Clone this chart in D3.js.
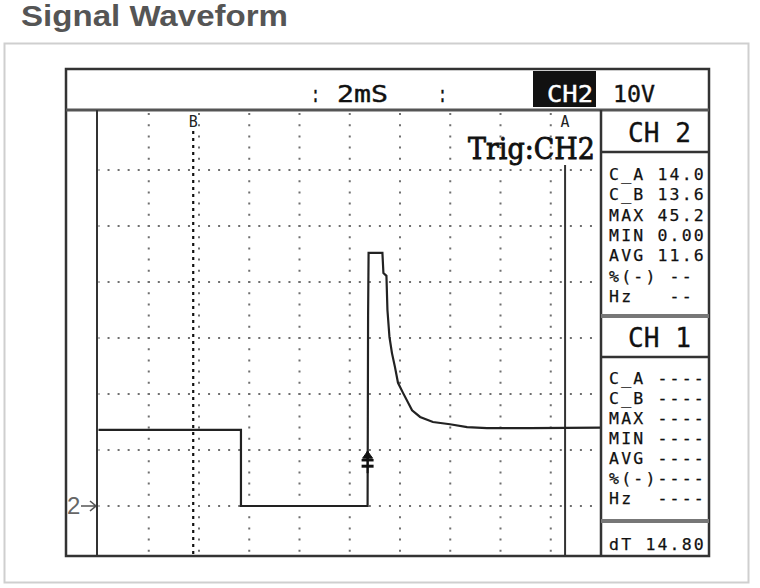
<!DOCTYPE html>
<html>
<head>
<meta charset="utf-8">
<script src="https://cdn.jsdelivr.net/npm/d3@7"></script>
<style>
  html, body { margin: 0; padding: 0; background: #fff; }
  svg { display: block; }
  .pre { white-space: pre; }
</style>
</head>
<body>
<script>
// ---------- data ----------
const chartTitle = "Signal Waveform";
const timeMs = [0, 5.67, 5.67, 10.71, 10.73, 10.75, 11.30, 11.34, 11.46, 11.50, 11.58, 11.68, 11.80, 11.92, 12.12, 12.48, 12.80, 13.31, 13.99, 14.67, 15.46, 17.17, 20.0];
const volts  = [13.6, 13.6, 0, 0, 34, 45.2, 45.2, 41.6, 41.1, 35.0, 30.2, 27.3, 24.8, 22.0, 20.2, 17.1, 15.9, 15.0, 14.6, 14.1, 13.9, 13.9, 14.0];
const gridTimes = [2, 4, 6, 8, 10, 12, 14, 16, 18];
const gridVolts = [0, 10, 20, 30, 40, 50, 60];
const cursorB = 3.77, cursorA = 18.57;
const triggerTime = 10.71, triggerVolt = 8;
const groundVolt = 0;
const timebase = "2mS", activeChannel = "CH2", voltsPerDiv = "10V";
const trigLabel = "Trig:CH2";
const ch2Title = "CH 2", ch1Title = "CH 1";
const rowLabels = ["C_A", "C_B", "MAX", "MIN", "AVG", "%(-)", "Hz"];
const ch2Values = ["14.0", "13.6", "45.2", "0.00", "11.6", "-- ", "-- "];
const ch1Values = ["----", "----", "----", "----", "----", "----", "----"];
const dtLabel = "dT", dtValue = "14.80";

// ---------- layout ----------
const W = 760, H = 588;
const frame = {x0: 66, y0: 69, x1: 709, y1: 556};
const plot = {x0: 97, y0: 110, x1: 601, y1: 556};
const barY = 110;

const svg = d3.select("body").append("svg").attr("width", W).attr("height", H);

// card
svg.append("rect").attr("x", 4.5).attr("y", 43.5).attr("width", 744).attr("height", 539)
  .attr("fill", "#fff").attr("stroke", "#cfcfcf").attr("stroke-width", 2);

svg.append("text").attr("x", 21).attr("y", 26)
  .attr("font-family", "Liberation Sans, Arial, sans-serif").attr("font-weight", "bold")
  .attr("font-size", 29).attr("fill", "#555").attr("textLength", 267).attr("lengthAdjust", "spacingAndGlyphs")
  .text(chartTitle);

// scales
const x = d3.scaleLinear().domain([0, 20]).range([98.5, 601]);
const y = d3.scaleLinear().domain([0, 10]).range([506, 450]);

// clip
svg.append("clipPath").attr("id", "plotclip").append("rect")
  .attr("x", plot.x0).attr("y", plot.y0).attr("width", plot.x1 - plot.x0).attr("height", plot.y1 - plot.y0);
const g = svg.append("g").attr("clip-path", "url(#plotclip)");

// grid: dotted
const vPeriod = (y(0) - y(10)) / 5;
const hPeriod = (x(2) - x(0)) / 5;
g.selectAll("line.vg").data(gridTimes).join("line").attr("class", "vg")
  .attr("x1", d => x(d)).attr("x2", d => x(d))
  .attr("y1", y(-10)).attr("y2", y(80))
  .attr("stroke", "#6f6f6f").attr("stroke-width", 2)
  .attr("stroke-dasharray", `2,${vPeriod - 2}`).attr("stroke-dashoffset", 1);
g.selectAll("line.hg").data(gridVolts).join("line").attr("class", "hg")
  .attr("x1", x(0)).attr("x2", x(20))
  .attr("y1", d => y(d)).attr("y2", d => y(d))
  .attr("stroke", "#6f6f6f").attr("stroke-width", 2)
  .attr("stroke-dasharray", `2,${hPeriod - 2}`).attr("stroke-dashoffset", 1);

// cursor B (dotted)
g.append("line").attr("x1", x(cursorB)).attr("x2", x(cursorB)).attr("y1", 131).attr("y2", plot.y1)
  .attr("stroke", "#111").attr("stroke-width", 2.2).attr("stroke-dasharray", "3,4");
// cursor A (solid)
g.append("line").attr("x1", x(cursorA)).attr("x2", x(cursorA)).attr("y1", 165).attr("y2", plot.y1)
  .attr("stroke", "#333").attr("stroke-width", 2);

const mono = "DejaVu Sans Mono, monospace";
[[cursorB, "B"], [cursorA, "A"]].forEach(([c, lab]) => {
  svg.append("text").attr("x", x(c) - 4.5).attr("y", 127)
    .attr("font-family", mono).attr("font-size", 15).attr("fill", "#222")
    .attr("textLength", 9).attr("lengthAdjust", "spacingAndGlyphs").text(lab);
});

// Trig label
svg.append("text").attr("x", 468).attr("y", 159)
  .attr("font-family", "DejaVu Serif, Liberation Serif, serif")
  .attr("font-size", 30).attr("fill", "#111").attr("stroke", "#111").attr("stroke-width", 0.9)
  .attr("textLength", 127).attr("lengthAdjust", "spacingAndGlyphs")
  .text(trigLabel);

// waveform
const pts = timeMs.map((t, i) => [t, volts[i]]);
g.append("path").datum(pts)
  .attr("d", d3.line().x(d => x(d[0])).y(d => y(d[1])))
  .attr("fill", "none").attr("stroke", "#222").attr("stroke-width", 2.2).attr("stroke-linejoin", "miter");

// trigger marker
const tx = x(triggerTime), ty = y(triggerVolt);
const tm = svg.append("g").attr("transform", `translate(${tx},${ty})`).attr("fill", "#111").attr("stroke", "#111");
tm.append("path").attr("d", "M0,-10 L-5,-3 L5,-3 Z").attr("stroke-width", 1);
tm.append("line").attr("x1", -6).attr("x2", 6).attr("y1", -1).attr("y2", -1).attr("stroke-width", 2.5);
tm.append("line").attr("x1", -6).attr("x2", 6).attr("y1", 5).attr("y2", 5).attr("stroke-width", 3);
tm.append("line").attr("x1", 0).attr("x2", 0).attr("y1", -10).attr("y2", 12).attr("stroke-width", 2);

// ground marker
svg.append("text").attr("x", 67).attr("y", y(groundVolt) + 8)
  .attr("font-family", "Liberation Sans, Arial, sans-serif").attr("font-size", 24).attr("fill", "#666").text("2");
svg.append("path").attr("d", `M81,${y(groundVolt)} H96 M90,${y(groundVolt) - 5} L96,${y(groundVolt)} L90,${y(groundVolt) + 5}`)
  .attr("fill", "none").attr("stroke", "#555").attr("stroke-width", 1.6);

// frame lines
svg.append("rect").attr("x", frame.x0).attr("y", frame.y0).attr("width", frame.x1 - frame.x0).attr("height", frame.y1 - frame.y0)
  .attr("fill", "none").attr("stroke", "#333").attr("stroke-width", 2.5);
svg.append("line").attr("x1", frame.x0).attr("x2", frame.x1).attr("y1", barY).attr("y2", barY).attr("stroke", "#555").attr("stroke-width", 3);
svg.append("line").attr("x1", plot.x0).attr("x2", plot.x0).attr("y1", barY).attr("y2", frame.y1).attr("stroke", "#333").attr("stroke-width", 2);
svg.append("line").attr("x1", plot.x1).attr("x2", plot.x1).attr("y1", barY).attr("y2", frame.y1).attr("stroke", "#333").attr("stroke-width", 2.5);

// top bar
const barText = (txt, xs, len, fill) => svg.append("text").attr("x", xs).attr("y", 102)
  .attr("font-family", mono).attr("font-size", 23).attr("fill", fill || "#111")
  .attr("stroke", fill || "#111").attr("stroke-width", 0.4)
  .attr("textLength", len).attr("lengthAdjust", "spacingAndGlyphs").text(txt);
barText(":", 311, 9);
barText(timebase, 337, 51);
barText(":", 438, 9);
svg.append("rect").attr("x", 533).attr("y", 71).attr("width", 63).attr("height", 36).attr("fill", "#111");
barText(activeChannel, 547, 46, "#fff");
barText(voltsPerDiv, 613, 42);

// right panel
const px0 = 608, cell = 12.1;
[[ch2Title, 142], [ch1Title, 347]].forEach(([t, yy]) => {
  svg.append("text").attr("x", 628).attr("y", yy).attr("font-family", mono).attr("font-size", 27).attr("fill", "#111")
    .attr("stroke", "#111").attr("stroke-width", 0.3)
    .attr("textLength", 63).attr("lengthAdjust", "spacingAndGlyphs").attr("class", "pre").text(t);
});

const sep = (yy, w, c) => svg.append("line").attr("x1", plot.x1).attr("x2", frame.x1).attr("y1", yy).attr("y2", yy).attr("stroke", c).attr("stroke-width", w);
sep(152, 2.5, "#333");
sep(316, 4, "#777");
sep(357, 2.5, "#333");
sep(521, 4, "#777");

function gridRow(str, yy) {
  const chars = str.split("");
  svg.append("text").attr("y", yy).attr("font-family", mono).attr("font-size", 16.5).attr("fill", "#111")
    .attr("stroke", "#111").attr("stroke-width", 0.25)
    .attr("class", "pre")
    .attr("x", chars.map((c, i) => (px0 + cell * i + 1.1).toFixed(1)).join(" "))
    .text(str);
}
rowLabels.forEach((l, i) => gridRow(l.padEnd(4) + ch2Values[i].padStart(4), 180 + 20.3 * i));
rowLabels.forEach((l, i) => gridRow(l.padEnd(4) + ch1Values[i].padStart(4), 384 + 19.95 * i));
gridRow(dtLabel.padEnd(3) + dtValue, 550);
</script>
</body>
</html>
